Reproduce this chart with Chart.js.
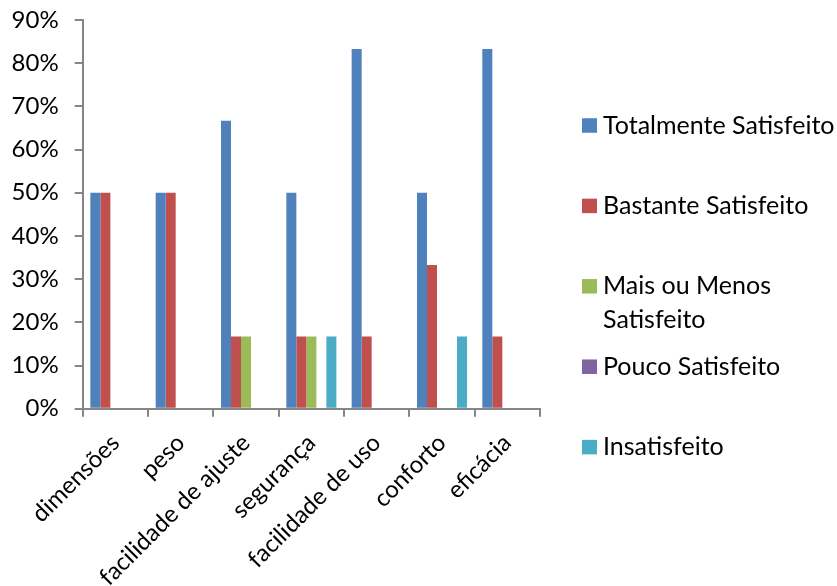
<!DOCTYPE html>
<html>
<head>
<meta charset="utf-8">
<script src="https://cdn.jsdelivr.net/npm/chart.js@4/dist/chart.umd.min.js"></script>
<style>
  html, body { margin: 0; padding: 0; background: #fff; }
  #wrap { width: 837px; height: 586px; position: relative; }
</style>
</head>
<body>
<div id="wrap"><canvas id="c" width="837" height="586"></canvas></div>
<script>
const categories = ["dimensões", "peso", "facilidade de ajuste", "segurança", "facilidade de uso", "conforto", "eficácia"];
const seriesNames = ["Totalmente Satisfeito", "Bastante Satisfeito", "Mais ou Menos Satisfeito", "Pouco Satisfeito", "Insatisfeito"];
const totalmente = [50, 50, 66.7, 50, 83.3, 50, 83.3];
const bastante   = [50, 50, 16.7, 16.7, 16.7, 33.3, 16.7];
const maisMenos  = [0, 0, 16.7, 16.7, 0, 0, 0];
const pouco      = [0, 0, 0, 0, 0, 0, 0];
const insatisfeito = [0, 0, 0, 16.7, 0, 16.7, 0];
const yTicks = [0, 10, 20, 30, 40, 50, 60, 70, 80, 90];
const colors = ["#4F81BD", "#C0504D", "#9BBB59", "#8064A2", "#4BACC6"];

const FONT = "Lato";
const FS = 24;
const LEGEND_FS = 25;

const seriesValues = [totalmente, bastante, maisMenos, pouco, insatisfeito];

const legendPlugin = {
  id: "sideLegend",
  afterDraw(chart) {
    const ctx = chart.ctx;
    ctx.save();
    ctx.font = LEGEND_FS + "px " + FONT;
    ctx.textBaseline = "middle";
    ctx.textAlign = "left";
    const boxX = 582, boxSize = 14.5, textX = 603;
    const maxW = chart.width - textX;
    const firstY = 125.5, step = 80.4, lineH = 34;
    chart.data.datasets.forEach((ds, i) => {
      const cy = firstY + i * step;
      ctx.fillStyle = ds.backgroundColor;
      ctx.fillRect(boxX, cy - boxSize / 2, boxSize + 0.5, boxSize);
      const words = ds.label.split(" ");
      const lines = [];
      let cur = "";
      words.forEach(w => {
        const t = cur ? cur + " " + w : w;
        if (ctx.measureText(t).width > maxW && cur) { lines.push(cur); cur = w; }
        else cur = t;
      });
      lines.push(cur);
      ctx.fillStyle = "#000";
      lines.forEach((ln, k) => ctx.fillText(ln, textX, cy + k * lineH));
    });
    ctx.restore();
  }
};

new Chart(document.getElementById("c"), {
  type: "bar",
  data: {
    labels: categories,
    datasets: seriesNames.map((name, i) => ({
      label: name,
      data: seriesValues[i],
      backgroundColor: colors[i],
      borderWidth: 0,
      categoryPercentage: 0.766,
      barPercentage: 1.0
    }))
  },
  options: {
    responsive: false,
    animation: false,
    devicePixelRatio: 1,
    layout: { padding: { top: 20, right: 297, left: 0, bottom: 0 } },
    plugins: {
      legend: { display: false },
      tooltip: { enabled: false }
    },
    scales: {
      x: {
        offset: true,
        grid: { display: true, drawOnChartArea: false, drawTicks: true, tickLength: 8, color: "#868686", lineWidth: 2, offset: true },
        border: { display: true, color: "#868686", width: 2 },
        ticks: {
          font: { family: FONT, size: FS },
          color: "#000",
          maxRotation: 45, minRotation: 45,
          autoSkip: false,
          padding: 12
        },
        afterFit(scale) {
          scale.height = 586 - 408.7;
          scale.paddingLeft = 0; scale.paddingRight = 0;
        }
      },
      y: {
        min: 0, max: 90,
        afterBuildTicks(scale) { scale.ticks = yTicks.map(v => ({ value: v })); },
        grid: { display: true, drawOnChartArea: false, drawTicks: true, tickLength: 8, color: "#868686", lineWidth: 2 },
        border: { display: true, color: "#868686", width: 2 },
        ticks: {
          font: { family: FONT, size: FS },
          color: "#000",
          padding: 16,
          callback: v => v + "%"
        },
        afterFit(scale) {
          scale.width = 82.7;
          scale.paddingTop = 0; scale.paddingBottom = 0;
        }
      }
    }
  },
  plugins: [legendPlugin]
});
</script>
</body>
</html>
